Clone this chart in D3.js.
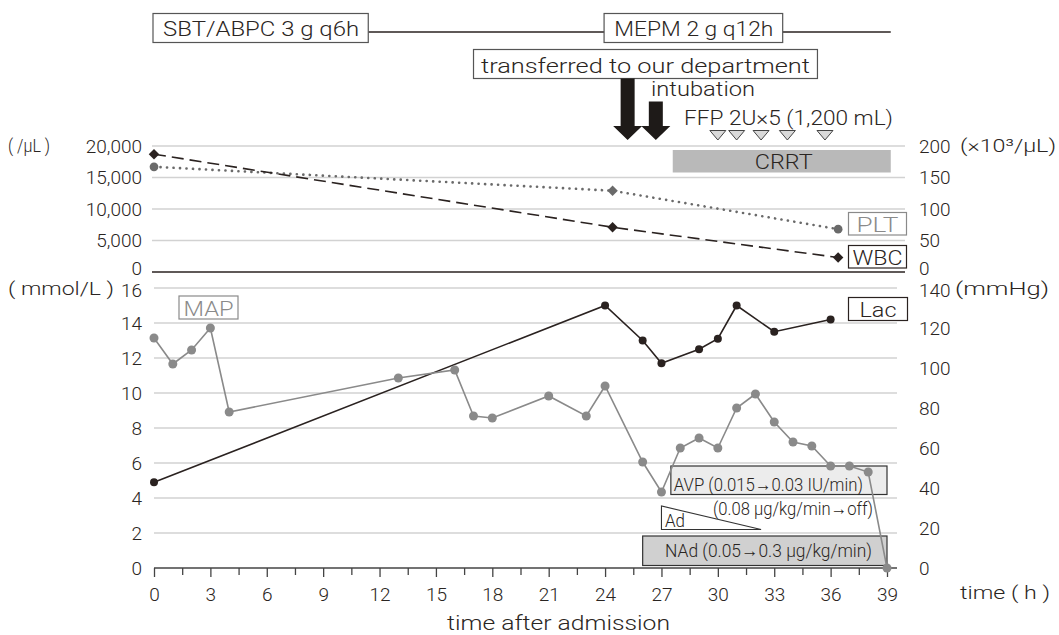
<!DOCTYPE html>
<html><head><meta charset="utf-8">
<script src="https://cdn.jsdelivr.net/npm/d3@7"></script>
<style>
body{margin:0;background:#fff}
svg{display:block}
text{font-family:Roboto,"Liberation Sans",Arial,sans-serif;font-weight:300;fill:#2a2522}
</style>
</head><body>
<svg id="chart" width="1059" height="635"></svg>
<script>
// ---------- DATA ----------
const majorHours = [0,3,6,9,12,15,18,21,24,27,30,33,36,39];
const minorHours = [1.5,4.5,7.5,10.5,13.5,16.5,19.5,22.5,25.5,28.5,31.5,34.5,37.5];

const wbcTicks = [0,5000,10000,15000,20000];
const pltTicks = [0,50,100,150,200];
const lacTicks = [0,2,4,6,8,10,12,14,16];
const mapTicks = [0,20,40,60,80,100,120,140];

const cbcTime = [0, 24.4, 36.4];
const wbcValues = [18700, 7100, 2300];
const pltValues = [167, 129, 68];

const lacTime = [0,24,26,27,29,30,31,33,36];
const lacValues = [4.9,15.0,13.0,11.7,12.5,13.1,15.0,13.5,14.2];

const mapTime = [0,1,2,3,4,13,16,17,18,21,23,24,26,27,28,29,30,31,32,33,34,35,36,37,38,39];
const mapValues = [115,102,109,120,78,95,99,76,75,86,76,91,53,38,60,65,60,80,87,73,63,61,51,51,48,0];

const abxLabels = ["SBT/ABPC 3 g q6h", "MEPM 2 g q12h"];
const abxStart = [0, 24];
const abxBoxEnd = [11.4, 33.45];
const abxLineEnd = [24, 39.2];

const arrowTimes = [25.2, 26.7];
const ffpTimes = [30, 31, 32.3, 33.7, 35.7];
const crrtRange = [27.6, 39.2];
const avpRange = [27.5, 39.0];
const nadRange = [26.0, 39.0];
const adRange = [27.0, 32.3];
const transferRange = [17.0, 35.3];

// ---------- SCALES ----------
const svg = d3.select("#chart");
const x = d3.scaleLinear().domain([0,39]).range([154,887]);
const yW = d3.scaleLinear().domain([0,20000]).range([272,146]);
const yP = d3.scaleLinear().domain([0,200]).range([272,146]);
const yL = d3.scaleLinear().domain([0,16]).range([568,288]);
const yM = d3.scaleLinear().domain([0,140]).range([568,288]);

const INK = "#2a2220";
const GREY = "#8a8a8a";
const FONT = "Roboto,'Liberation Sans',Arial,sans-serif";
const diamond = d3.symbolDiamond2 || d3.symbolDiamond;

function label(g, txt, xx, yy, size, width, opts={}) {
  const t = g.append("text").attr("x", xx).attr("y", yy)
    .attr("font-size", size).text(txt)
    .attr("text-anchor", opts.anchor || "start");
  if (width) t.attr("textLength", width).attr("lengthAdjust", "spacingAndGlyphs");
  if (opts.fill) t.style("fill", opts.fill);
  return t;
}

// ---------- GRIDLINES ----------
const grid = svg.append("g");
grid.selectAll(".gu").data(wbcTicks.filter(d=>d>0)).join("line")
  .attr("x1",152).attr("x2",905).attr("y1",d=>yW(d)).attr("y2",d=>yW(d))
  .attr("stroke","#d2d2d2").attr("stroke-width",1.3);
grid.append("line").attr("x1",152).attr("x2",905).attr("y1",yW(0)).attr("y2",yW(0))
  .attr("stroke",INK).attr("stroke-width",1.4);
grid.selectAll(".gl").data(lacTicks.filter(d=>d>0)).join("line")
  .attr("x1",154).attr("x2",897).attr("y1",d=>yL(d)).attr("y2",d=>yL(d))
  .attr("stroke","#d2d2d2").attr("stroke-width",1.3);
grid.append("line").attr("x1",154).attr("x2",897).attr("y1",yL(0)).attr("y2",yL(0))
  .attr("stroke","#444").attr("stroke-width",1.4);

// ---------- AXES ----------
function styleAxis(g, size) {
  g.select(".domain").remove();
  g.selectAll("text").attr("font-size", size).attr("font-family", FONT)
    .attr("font-weight", 300).style("fill","#2a2522");
}
const axW = svg.append("g").attr("transform","translate(154,0)")
  .call(d3.axisLeft(yW).tickValues(wbcTicks).tickSize(0).tickPadding(12).tickFormat(d3.format(",")));
styleAxis(axW, 19);
const axP = svg.append("g").attr("transform","translate(905,0)")
  .call(d3.axisRight(yP).tickValues(pltTicks).tickSize(0).tickPadding(14));
styleAxis(axP, 19);
const axL = svg.append("g").attr("transform","translate(154,0)")
  .call(d3.axisLeft(yL).tickValues(lacTicks).tickSize(0).tickPadding(12));
styleAxis(axL, 19);
const axM = svg.append("g").attr("transform","translate(905,0)")
  .call(d3.axisRight(yM).tickValues(mapTicks).tickSize(0).tickPadding(14));
styleAxis(axM, 19);
// nudge the adjacent zero / top labels apart as in the reference
axW.selectAll(".tick text").filter(d=>d===0).attr("y",-3.5);
axP.selectAll(".tick text").filter(d=>d===0).attr("y",-3.5);
axL.selectAll(".tick text").filter(d=>d===16).attr("y",2.5);
axM.selectAll(".tick text").filter(d=>d===140).attr("y",2.5);

const axX = svg.append("g").attr("transform",`translate(0,${yL(0)})`)
  .call(d3.axisBottom(x).tickValues(majorHours).tickSize(9).tickPadding(10.5));
styleAxis(axX, 19);
axX.selectAll("line").attr("stroke","#444").attr("stroke-width",1.3);
const axX2 = svg.append("g").attr("transform",`translate(0,${yL(0)})`)
  .call(d3.axisBottom(x).tickValues(minorHours).tickSize(7).tickFormat(""));
axX2.select(".domain").remove();
axX2.selectAll("line").attr("stroke","#444").attr("stroke-width",1.3);

// axis unit labels
const ann = svg.append("g");
label(ann, "( /μL )", 8, 152, 18.5, 42);
label(ann, "(×10³/μL)", 960, 152, 18.5, 96);
label(ann, "( mmol/L )", 8, 295, 18.5, 106);
label(ann, "(mmHg)", 955, 295, 18.5, 94);
label(ann, "time  ( h )", 960, 599, 19, 90);
label(ann, "time after admission", 447, 630, 19.5, 223);

// ---------- TOP ANNOTATIONS ----------
abxLabels.forEach((lab,i)=>{
  ann.append("line").attr("x1",x(abxBoxEnd[i])).attr("x2",x(abxLineEnd[i]))
    .attr("y1",32).attr("y2",32).attr("stroke",INK).attr("stroke-width",1.3);
  ann.append("rect").attr("x",x(abxStart[i])-1).attr("y",13.5)
    .attr("width",x(abxBoxEnd[i])-x(abxStart[i])+1).attr("height",29)
    .attr("fill","#fff").attr("stroke","#555").attr("stroke-width",1.2);
  const mid = (x(abxStart[i])+x(abxBoxEnd[i]))/2;
  label(ann, lab, mid, 36, 21, i===0?196:159, {anchor:"middle"});
});
ann.append("rect").attr("x",x(transferRange[0])).attr("y",49.5)
  .attr("width",x(transferRange[1])-x(transferRange[0])).attr("height",29)
  .attr("fill","#fff").attr("stroke","#555").attr("stroke-width",1.2);
label(ann, "transferred to our department", (x(transferRange[0])+x(transferRange[1]))/2, 72.5, 21, 329, {anchor:"middle"});

// arrows
const arrowTops = [78.5, 101.5];
arrowTimes.forEach((t,i)=>{
  const cx = x(t), top = arrowTops[i], hs = 126, tip = 140;
  const p = d3.path();
  p.moveTo(cx-7, top); p.lineTo(cx+7, top); p.lineTo(cx+7, hs); p.lineTo(cx+14.5, hs);
  p.lineTo(cx, tip); p.lineTo(cx-14.5, hs); p.lineTo(cx-7, hs); p.closePath();
  ann.append("path").attr("d", p.toString()).attr("fill","#1e1a18");
});
label(ann, "intubation", 651, 96, 21, 104);
label(ann, "FFP 2U×5  (1,200 mL)", 684, 125, 20, 209);

// FFP triangles
ffpTimes.forEach(t=>{
  const cx = x(t);
  ann.append("path").attr("d", `M${cx-8},130.5 L${cx+8},130.5 L${cx},140 Z`)
    .attr("fill","#d9d9d9").attr("stroke","#444").attr("stroke-width",1);
});

// CRRT
ann.append("rect").attr("x",x(crrtRange[0])).attr("y",150)
  .attr("width",x(crrtRange[1])-x(crrtRange[0])).attr("height",22.5).attr("fill","#b9b9b9");
label(ann, "CRRT", (x(crrtRange[0])+x(crrtRange[1]))/2 + 2, 169, 20.5, 58, {anchor:"middle"});

// ---------- LOWER ANNOTATION BOXES ----------
ann.append("rect").attr("x",x(avpRange[0])).attr("y",466)
  .attr("width",x(avpRange[1])-x(avpRange[0])).attr("height",28.5)
  .attr("fill","#ececec").attr("stroke","#333").attr("stroke-width",1.2);
label(ann, "AVP (0.015→0.03 IU/min)", x(avpRange[0])+3, 490.5, 19, 189);
label(ann, "(0.08 μg/kg/min→off)", 713, 515, 19, 160);
ann.append("path")
  .attr("d", `M${x(adRange[0])},506 L${x(adRange[0])},529.5 L${x(adRange[1])},529.5 Z`)
  .attr("fill","#fff").attr("stroke","#333").attr("stroke-width",1.1);
label(ann, "Ad", x(adRange[0])+3.5, 527, 19, 20);
ann.append("rect").attr("x",x(nadRange[0])).attr("y",536)
  .attr("width",x(nadRange[1])-x(nadRange[0])).attr("height",29.5)
  .attr("fill","#d0d0d0").attr("stroke","#333").attr("stroke-width",1.2);
label(ann, "NAd  (0.05→0.3 μg/kg/min)", 665, 557, 19, 207);

// ---------- UPPER SERIES ----------
const wbcData = cbcTime.map((t,i)=>({t, v:wbcValues[i]}));
const pltData = cbcTime.map((t,i)=>({t, v:pltValues[i]}));
const plotU = svg.append("g");
plotU.append("path").datum(pltData)
  .attr("d", d3.line().x(d=>x(d.t)).y(d=>yP(d.v)))
  .attr("fill","none").attr("stroke","#6a6a6a").attr("stroke-width",2.6)
  .attr("stroke-linecap","round").attr("stroke-dasharray","0.1,6.4");
plotU.append("path").datum(wbcData)
  .attr("d", d3.line().x(d=>x(d.t)).y(d=>yW(d.v)))
  .attr("fill","none").attr("stroke",INK).attr("stroke-width",1.6)
  .attr("stroke-dasharray","12,6");
plotU.selectAll(".pm").data(pltData).join("path")
  .attr("transform", d=>`translate(${x(d.t)},${yP(d.v)})`)
  .attr("d", (d,i)=> d3.symbol().type(i===1?diamond:d3.symbolCircle).size(i===1?70:60)())
  .attr("fill","#6a6a6a");
plotU.selectAll(".wm").data(wbcData).join("path")
  .attr("transform", d=>`translate(${x(d.t)},${yW(d.v)})`)
  .attr("d", d3.symbol().type(diamond).size(70)())
  .attr("fill",INK);

// legends
function legendBox(txt, x0, y0, w, h, color, tw) {
  ann.append("rect").attr("x",x0).attr("y",y0).attr("width",w).attr("height",h)
    .attr("fill","#fff").attr("stroke",color).attr("stroke-width",1.2);
  label(ann, txt, x0+w/2, y0+h-3.5, 20.5, tw, {anchor:"middle", fill:color});
}
legendBox("PLT", 848.5, 212.5, 58, 22.5, "#8a8a8a", 42);
legendBox("WBC", 848.5, 245.5, 58, 22.5, "#2a2220", 50);

// ---------- LOWER SERIES ----------
const lacData = lacTime.map((t,i)=>({t, v:lacValues[i]}));
const mapData = mapTime.map((t,i)=>({t, v:mapValues[i]}));
const plotL = svg.append("g");
plotL.append("path").datum(lacData)
  .attr("d", d3.line().x(d=>x(d.t)).y(d=>yL(d.v)))
  .attr("fill","none").attr("stroke",INK).attr("stroke-width",1.6);
plotL.selectAll(".lm").data(lacData).join("circle")
  .attr("cx",d=>x(d.t)).attr("cy",d=>yL(d.v)).attr("r",4).attr("fill",INK);
plotL.append("path").datum(mapData)
  .attr("d", d3.line().x(d=>x(d.t)).y(d=>yM(d.v)))
  .attr("fill","none").attr("stroke",GREY).attr("stroke-width",1.6);
plotL.selectAll(".mm").data(mapData).join("circle")
  .attr("cx",d=>x(d.t)).attr("cy",d=>yM(d.v)).attr("r",4.5).attr("fill",GREY);

legendBox("Lac", 848.5, 297.5, 59, 23, "#2a2220", 37);
legendBox("MAP", 179, 296, 59, 23, "#8a8a8a", 50);
</script>
</body></html>
